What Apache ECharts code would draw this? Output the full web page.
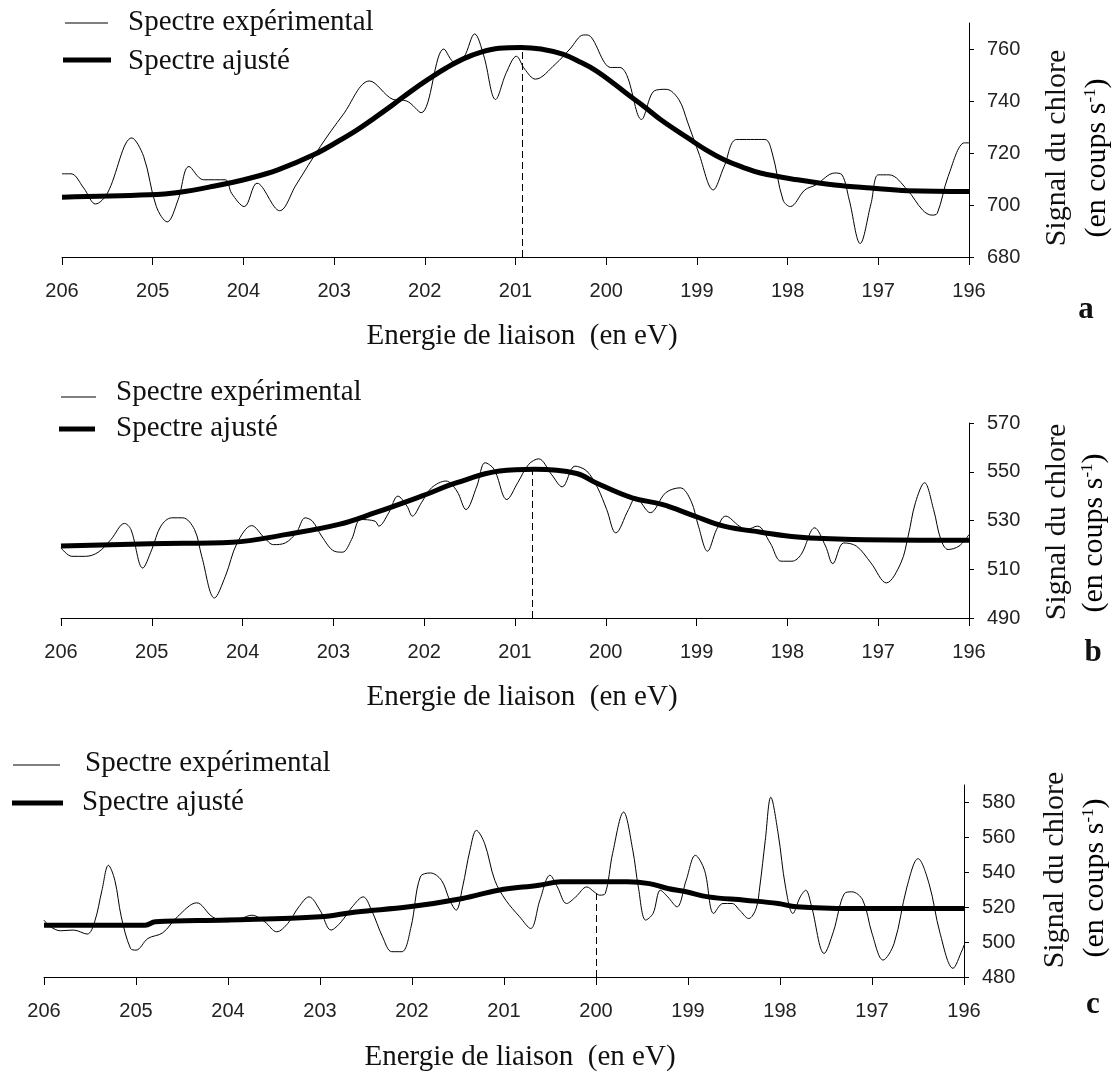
<!DOCTYPE html>
<html>
<head>
<meta charset="utf-8">
<script src="https://cdn.jsdelivr.net/npm/echarts@6/dist/echarts.min.js"></script>
<style>
html,body{margin:0;padding:0;background:#fff;}
#chart{width:1116px;height:1074px;}
</style>
</head>
<body>
<div id="chart"></div>
<script>
// ---- Data (binding energy in eV, signal in counts/s) ----
const xTicks = [206,205,204,203,202,201,200,199,198,197,196];
const yTicksA = [680,700,720,740,760];
const yTicksB = [490,510,530,550,570];
const yTicksC = [480,500,520,540,560,580];

const expA = [[206,712],[205.9,712],[205.76,706.5],[205.63,700.4],[205.5,704.5],[205.23,725.8],[205.1,718.7],[204.96,699.4],[204.84,693.5],[204.72,702],[204.6,714.8],[204.44,709.7],[204.2,709.7],[204.13,704.5],[203.99,699.4],[203.85,708.4],[203.6,697.8],[203.42,707.7],[203.15,722.6],[202.9,734.8],[202.61,747.7],[202.35,740.6],[202.2,740],[202.04,735.5],[201.79,760],[201.67,754.8],[201.57,756.8],[201.45,765.8],[201.35,757.4],[201.22,740.6],[201.1,751],[200.99,757.2],[200.9,752.3],[200.78,748.4],[200.56,754.2],[200.4,760],[200.25,765.4],[200.21,765.4],[199.95,752.9],[199.85,752.9],[199.77,749.7],[199.61,732.9],[199.47,743.9],[199.34,744.5],[199.2,740.6],[199.1,731.6],[198.98,720],[198.82,705.8],[198.7,714.8],[198.56,725.2],[198.25,725.2],[198.17,720],[198.05,701.9],[197.97,699.4],[197.81,705.8],[197.69,707.7],[197.48,712.3],[197.4,711.6],[197.32,701.9],[197.2,685.2],[197.08,700.6],[197.0,711.6],[196.88,711.6],[196.68,705.8],[196.51,698],[196.41,696.1],[196.35,696.8],[196.23,711],[196.05,723.9],[196.0,723.9]];
const fitA = [[206,703],[205.04,703.9],[204.72,704.8],[204.33,707.2],[203.93,710.3],[203.62,713.5],[203.22,719.4],[202.95,724.6],[202.75,728.8],[202.55,733.6],[202.35,738.6],[202.15,743.8],[201.96,748.4],[201.76,752.8],[201.57,756.3],[201.37,758.9],[201.18,760.3],[200.94,760.6],[200.72,760],[200.48,758],[200.3,755.2],[200.11,751.6],[199.91,746.5],[199.75,742.2],[199.59,738.1],[199.39,732.6],[199.1,725.8],[198.9,721.2],[198.7,717.4],[198.5,714.6],[198.3,712.3],[197.89,709.7],[197.48,707.7],[197.08,706.5],[196.68,705.5],[196,705.2]];
const peakA = [200.93, 760.6];

const expB = [[206,518.8],[205.88,515.3],[205.73,515.3],[205.59,517],[205.45,522.2],[205.3,528.8],[205.23,526.3],[205.1,510.5],[205.0,518.1],[204.9,527.7],[204.78,531.1],[204.66,531.1],[204.53,526.3],[204.45,515.3],[204.31,498.2],[204.19,507.1],[204.06,520.8],[203.9,527.9],[203.76,522.9],[203.66,520.1],[203.53,520.8],[203.41,524.9],[203.31,531.1],[203.23,529.7],[203.13,523.6],[202.99,517.4],[202.9,517],[202.8,522.2],[202.7,530.4],[202.54,529.7],[202.5,527.7],[202.39,533.2],[202.29,540],[202.19,535.9],[202.13,531.8],[202.03,537.3],[201.92,543.4],[201.76,546.2],[201.64,542.1],[201.54,534.5],[201.42,544.1],[201.33,553.7],[201.23,551],[201.09,538.6],[200.97,545.5],[200.85,553],[200.74,555.3],[200.6,549],[200.48,543.8],[200.34,552.3],[200.21,550.3],[200.09,543.4],[199.99,534.5],[199.89,524.9],[199.75,534.5],[199.67,539.3],[199.51,533.2],[199.34,541.4],[199.18,543.4],[199.06,537.9],[198.98,527.7],[198.88,517.4],[198.78,526.3],[198.68,531.8],[198.53,527.7],[198.45,526.3],[198.33,527.7],[198.19,520.8],[198.07,513.3],[197.95,513.3],[197.85,516],[197.7,527],[197.58,519.5],[197.5,512.3],[197.38,520.8],[197.24,519.5],[197.08,512.6],[196.91,504.4],[196.75,512.6],[196.67,523.6],[196.59,537.3],[196.49,545.5],[196.39,534.5],[196.31,522.2],[196.23,518.1],[196.11,519.5],[196.0,524.2]];
const fitB = [[206,519.5],[205.02,520.5],[204.11,521.1],[203.53,524.2],[202.94,528.4],[202.54,533.2],[202.03,540],[201.64,545.5],[201.17,550.3],[200.78,551],[200.32,549.3],[200.11,545.5],[199.71,539.3],[199.38,536.6],[199.02,531.8],[198.7,527.7],[198.29,525.2],[197.89,523.2],[197.28,522.2],[196,521.9]];
const peakB = [200.81, 550.8];

const expC = [[206,512.6],[205.93,508.8],[205.82,506.5],[205.68,506.9],[205.53,504.6],[205.45,511.6],[205.37,529.7],[205.3,544],[205.23,535.4],[205.16,514.5],[205.06,496.4],[205.0,495.4],[204.87,502.1],[204.71,505.3],[204.55,514.5],[204.34,522.5],[204.17,514.5],[204.01,511.6],[203.86,513.5],[203.74,515.4],[203.6,511.6],[203.47,505.9],[203.35,510.7],[203.23,520.2],[203.12,525.9],[203.0,518.3],[202.88,506.9],[202.77,511.6],[202.65,520.2],[202.53,525.9],[202.44,518.3],[202.32,503],[202.22,494.5],[202.11,494.5],[202.01,508.8],[201.91,537.3],[201.8,539.6],[201.68,535.4],[201.59,524],[201.52,518.3],[201.45,531.6],[201.37,552.6],[201.3,564],[201.21,556.4],[201.1,535.4],[200.98,524],[200.83,514.5],[200.71,507.8],[200.61,524],[200.5,538.3],[200.42,531.6],[200.32,522.1],[200.22,525.9],[200.1,531.6],[200.02,528.8],[199.96,526.9],[199.9,527.8],[199.82,550.7],[199.7,574.5],[199.6,552.6],[199.54,531.6],[199.46,512.6],[199.38,516.4],[199.3,529.7],[199.22,525.9],[199.12,520.2],[199.02,535.4],[198.92,549.7],[198.82,541.1],[198.72,516.4],[198.62,522.1],[198.52,522.1],[198.44,518.3],[198.34,513.5],[198.26,519.2],[198.22,531.6],[198.16,558.3],[198.1,583],[198.02,562.1],[197.94,531.6],[197.86,516.4],[197.78,525.9],[197.72,529.7],[197.66,521.1],[197.52,493.5],[197.42,505.9],[197.3,527.8],[197.22,528.8],[197.1,524],[197.0,505],[196.88,489.7],[196.76,499.2],[196.62,531.6],[196.5,547.8],[196.38,533.5],[196.26,505],[196.12,485],[196.02,495.4],[196.0,498.3]];
const fitC = [[206,509.7],[204.9,509.7],[204.79,511.6],[204.01,512.6],[203.0,514.5],[202.61,517.3],[202.03,520.2],[201.45,525],[201.06,529.7],[200.62,532.6],[200.38,534.5],[199.66,534.5],[199.42,533.5],[199.22,530.7],[199.02,528.8],[198.78,525.9],[198.38,524],[198.02,522.1],[197.82,520.2],[197.22,519.2],[196,519.2]];
const peakC = [200.0, 530];

const legendLabels = ['Spectre expérimental', 'Spectre ajusté'];
const xTitle = 'Energie de liaison  (en eV)';
const yTitle1 = 'Signal du chlore';
const panelLetters = ['a', 'b', 'c'];

// ---- Styling helpers ----
const SANS = '"Liberation Sans", Arial, sans-serif';
const SERIF = '"Liberation Serif", "Times New Roman", serif';
const BLACK = '#000';
const SERIF_SIZE = 29;

function makeX(gi) {
  return {
    type: 'value', gridIndex: gi, min: 196, max: 206, interval: 1, inverse: true,
    axisLine: { show: true, onZero: false, lineStyle: { color: BLACK, width: 1 } },
    axisTick: { show: true, length: 8, lineStyle: { color: BLACK, width: 1 } },
    axisLabel: { margin: 24, fontSize: 20, fontFamily: SANS, color: '#222',
      formatter: v => (xTicks.indexOf(v) >= 0 ? String(v) : '') },
    splitLine: { show: false }
  };
}
function makeY(gi, min, max, ticks) {
  return {
    type: 'value', gridIndex: gi, position: 'right', min: min, max: max, interval: 20,
    axisLine: { show: true, onZero: false, lineStyle: { color: BLACK, width: 1 } },
    axisTick: { show: true, length: 5, customValues: ticks, lineStyle: { color: BLACK, width: 1 } },
    axisLabel: { show: true, customValues: ticks, margin: 18, fontSize: 20, fontFamily: SANS, color: '#222' },
    splitLine: { show: false }
  };
}
function expSeries(gi, data) {
  return { type: 'line', name: legendLabels[0], xAxisIndex: gi, yAxisIndex: gi, data: data,
    showSymbol: false, symbol: 'none', smooth: 0.35, z: 3,
    lineStyle: { color: BLACK, width: 1 } };
}
function fitSeries(gi, data, peak) {
  return { type: 'line', name: legendLabels[1], xAxisIndex: gi, yAxisIndex: gi, data: data,
    showSymbol: false, symbol: 'none', smooth: 0.4, z: 4,
    lineStyle: { color: BLACK, width: 5 },
    markLine: { silent: true, symbol: 'none', label: { show: false },
      lineStyle: { color: BLACK, width: 1, type: [7, 4] },
      data: [[{ coord: [peak[0], gi === 0 ? 680 : (gi === 1 ? 490 : 480)] }, { coord: [peak[0], peak[1]] }]] } };
}

function legendGraphics(thin, thick, tx1, ty1, tx2, ty2) {
  return [
    { type: 'line', shape: thin, style: { stroke: BLACK, lineWidth: 1 } },
    { type: 'text', x: tx1, y: ty1, style: { text: legendLabels[0], fontSize: SERIF_SIZE, fontFamily: SERIF, fill: '#111', align: 'left', verticalAlign: 'middle' } },
    { type: 'line', shape: thick, style: { stroke: BLACK, lineWidth: 5 } },
    { type: 'text', x: tx2, y: ty2, style: { text: legendLabels[1], fontSize: SERIF_SIZE, fontFamily: SERIF, fill: '#111', align: 'left', verticalAlign: 'middle' } }
  ];
}
function titleGraphics(cx, cy) {
  return { type: 'text', x: cx, y: cy, style: { text: xTitle, fontSize: SERIF_SIZE, fontFamily: SERIF, fill: '#111', align: 'center', verticalAlign: 'middle' } };
}
function yTitleGraphics(x1, y1, x2, y2) {
  return [
    { type: 'text', x: x1, y: y1, rotation: Math.PI / 2,
      style: { text: yTitle1, fontSize: 30, fontFamily: SERIF, fill: '#111', align: 'center', verticalAlign: 'middle' } },
    { type: 'text', x: x2, y: y2, rotation: Math.PI / 2,
      style: { text: '{n|(en coups s}{s|-1}{n|)}', align: 'center', verticalAlign: 'middle',
        rich: { n: { fontSize: 30, fontFamily: SERIF, color: '#111' },
                s: { fontSize: 17, fontFamily: SERIF, color: '#111', verticalAlign: 'top', padding: [0, 0, 10, 0] } } } }
  ];
}
function letter(x, y, t) {
  return { type: 'text', x: x, y: y, style: { text: t, fontSize: 31, fontWeight: 'bold', fontFamily: SERIF, fill: '#111', align: 'center', verticalAlign: 'middle' } };
}

const graphics = [].concat(
  legendGraphics({ x1: 65, y1: 23, x2: 108, y2: 23 }, { x1: 63, y1: 60, x2: 111, y2: 60 }, 128, 22, 128, 61),
  legendGraphics({ x1: 61, y1: 397, x2: 96, y2: 397 }, { x1: 59, y1: 429, x2: 95, y2: 429 }, 116, 392, 116, 428),
  legendGraphics({ x1: 13, y1: 765, x2: 60, y2: 765 }, { x1: 12, y1: 803, x2: 63, y2: 803 }, 85, 763, 82, 802),
  [titleGraphics(522, 336), titleGraphics(522, 697), titleGraphics(520, 1057)],
  yTitleGraphics(1057, 148, 1097, 158),
  yTitleGraphics(1057, 522, 1094, 533),
  yTitleGraphics(1055, 870, 1095, 878),
  [letter(1086, 310, panelLetters[0]), letter(1093, 653, panelLetters[1]), letter(1093, 1005, panelLetters[2])]
);

const option = {
  animation: false,
  backgroundColor: '#fff',
  grid: [
    { left: 62, top: 23, width: 907, height: 234 },
    { left: 61, top: 423, width: 908, height: 195 },
    { left: 44, top: 785, width: 920, height: 192 }
  ],
  xAxis: [makeX(0), makeX(1), makeX(2)],
  yAxis: [makeY(0, 680, 770, yTicksA), makeY(1, 490, 570, yTicksB), makeY(2, 480, 590, yTicksC)],
  series: [
    expSeries(0, expA), fitSeries(0, fitA, peakA),
    expSeries(1, expB), fitSeries(1, fitB, peakB),
    expSeries(2, expC), fitSeries(2, fitC, peakC)
  ],
  graphic: graphics
};

const chart = echarts.init(document.getElementById('chart'), null, { renderer: 'canvas' });
chart.setOption(option);
</script>
</body>
</html>
